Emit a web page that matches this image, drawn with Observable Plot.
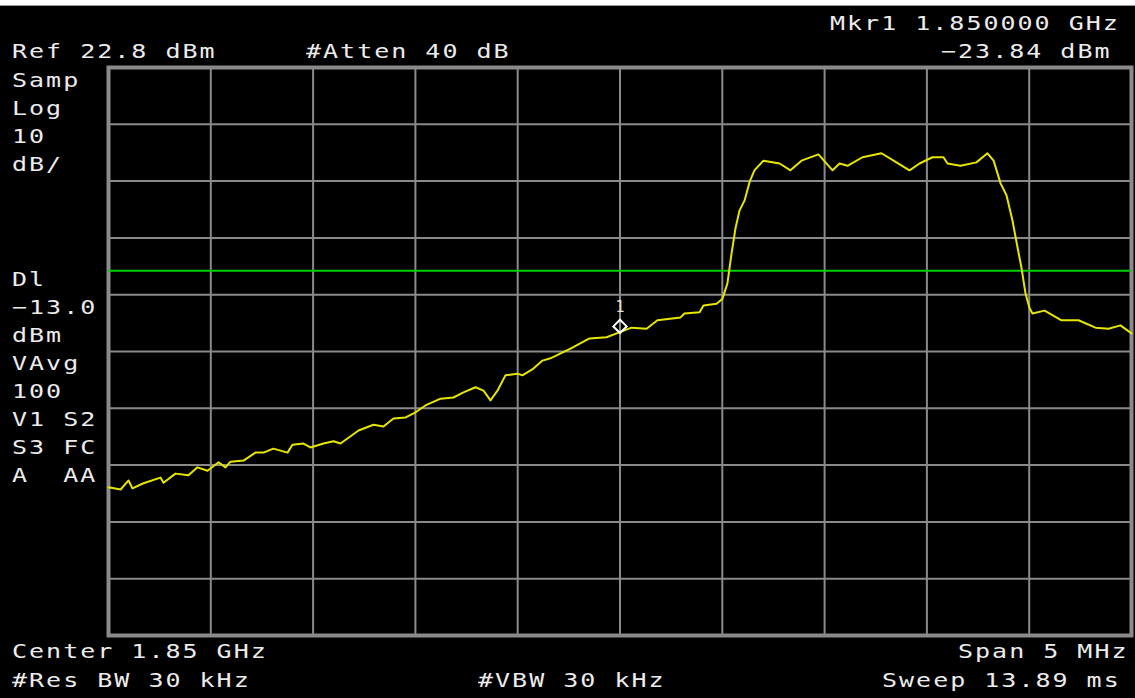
<!DOCTYPE html>
<html>
<head>
<meta charset="utf-8">
<script src="https://cdn.jsdelivr.net/npm/d3@7"></script>
<script src="https://cdn.jsdelivr.net/npm/@observablehq/plot@0.6"></script>
<style>
  html, body { margin: 0; padding: 0; background: #000; width: 1135px; height: 698px; overflow: hidden; }
  #wrap { position: relative; width: 1135px; height: 698px; }
  #chart { position: absolute; left: 0; top: 0; }
  .topstrip { position: absolute; left: 0; top: 0; width: 1135px; height: 5px; background: #fff; border-bottom: 1px solid #999; }
  .t { position: absolute; font-family: "DejaVu Sans Mono", monospace; font-size: 20px; line-height: 20px;
       letter-spacing: 1.6px; color: #ececec; white-space: pre;
       transform: scaleX(1.25); transform-origin: 0 0; }
</style>
</head>
<body>
<div id="wrap">
  <div id="chart"></div>
  <div class="topstrip"></div>
</div>
<script>
// ---- Instrument settings ----
const centerGHz = 1.85;
const spanMHz = 5;
const refLevel = 22.8;      // dBm, top of screen
const dbPerDiv = 10;
const displayLine = [-13.0];
const markerOffsetMHz = [0];
const markerLevel = [-23.84];
const markerLabel = ["1"];

// ---- Trace: frequency offset from center (MHz) and level (dBm) ----
const traceOffsetMHz = [
  -2.500,-2.441,-2.402,-2.383,-2.329,-2.246,-2.231,-2.173,-2.109,-2.065,
  -2.016,-1.962,-1.928,-1.904,-1.840,-1.782,-1.742,-1.694,-1.625,-1.601,
  -1.547,-1.513,-1.449,-1.400,-1.366,-1.278,-1.205,-1.156,-1.107,-1.048,
  -0.999,-0.951,-0.877,-0.814,-0.765,-0.706,-0.667,-0.633,-0.599,-0.560,
  -0.501,-0.477,-0.423,-0.379,-0.340,-0.242,-0.149,-0.066, 0.000, 0.056,
   0.130, 0.183, 0.296, 0.315, 0.389, 0.408, 0.472, 0.501, 0.525, 0.545,
   0.565, 0.584, 0.609, 0.633, 0.657, 0.701, 0.780, 0.833, 0.887, 0.970,
   1.039, 1.073, 1.112, 1.185, 1.278, 1.351, 1.415, 1.464, 1.527, 1.581,
   1.601, 1.664, 1.742, 1.796, 1.826, 1.860, 1.889, 1.918, 1.943, 1.962,
   1.982, 2.001, 2.016, 2.075, 2.158, 2.241, 2.324, 2.388, 2.446, 2.500
];
const traceLevel = [
  -51.1,-51.5,-49.9,-51.3,-50.4,-49.4,-50.3,-48.7,-49.0,-47.6,
  -48.2,-46.7,-47.6,-46.6,-46.4,-45.0,-45.0,-44.3,-45.0,-43.6,
  -43.4,-44.1,-43.4,-43.0,-43.4,-41.1,-40.1,-40.4,-39.0,-38.8,
  -37.9,-36.7,-35.5,-35.3,-34.4,-33.5,-34.1,-35.8,-34.1,-31.4,
  -31.1,-31.4,-30.2,-28.8,-28.4,-26.7,-24.9,-24.7,-23.8,-23.0,
  -23.2,-21.7,-21.2,-20.5,-20.3,-19.1,-18.8,-17.9,-15.2,-10.0,
   -5.4, -2.4, -0.6,  2.6,  4.7,  6.4,  5.9,  4.7,  6.4,  7.5,
    4.7,  5.9,  5.5,  7.0,  7.7,  6.1,  4.7,  5.9,  7.0,  7.0,
    5.9,  5.5,  6.1,  7.7,  6.4,  2.4,  0.3, -4.1, -8.9,-12.4,
  -17.0,-19.5,-20.5,-20.0,-21.7,-21.7,-23.0,-23.2,-22.6,-24.0
];

// ---- Annotation texts ----
const topTexts = [
  {text: "Mkr1 1.850000 GHz", left: 830, base: 30},
  {text: "Ref 22.8 dBm", left: 12, base: 58},
  {text: "#Atten 40 dB", left: 306, base: 58},
  {text: "\u221223.84 dBm", left: 941, base: 58}
];
const sideTexts = ["Samp", "Log", "10", "dB/"];
const sideTexts2 = ["Dl", "\u221213.0", "dBm", "VAvg", "100", "V1 S2", "S3 FC", "A  AA"];
const bottomTexts = [
  {text: "Center 1.85 GHz", left: 12, base: 658},
  {text: "Span 5 MHz", left: 958, base: 658},
  {text: "#Res BW 30 kHz", left: 12, base: 687},
  {text: "#VBW 30 kHz", left: 478, base: 687},
  {text: "Sweep 13.89 ms", left: 882, base: 687}
];

// ---- Build data ----
const toGHz = m => centerGHz + m / 1000;
const trace = traceOffsetMHz.map((m, i) => ({f: toGHz(m), db: traceLevel[i]}));
const markers = markerOffsetMHz.map((m, i) => ({f: toGHz(m), db: markerLevel[i], label: markerLabel[i]}));
const fMin = toGHz(-spanMHz / 2), fMax = toGHz(spanMHz / 2);
const bottomLevel = refLevel - 10 * dbPerDiv;
const xGrid = d3.range(11).map(i => fMin + i * (fMax - fMin) / 10);
const yGrid = d3.range(11).map(i => refLevel - i * dbPerDiv);

const grey = "#8a8a8a";
const chart = Plot.plot({
  width: 1135,
  height: 698,
  marginLeft: 108,
  marginRight: 4,
  marginTop: 67,
  marginBottom: 63,
  style: {background: "#000"},
  x: {domain: [fMin, fMax], axis: null},
  y: {domain: [bottomLevel, refLevel], axis: null},
  marks: [
    Plot.ruleX(xGrid.slice(1, -1), {stroke: grey, strokeWidth: 2}),
    Plot.ruleY(yGrid.slice(1, -1), {stroke: grey, strokeWidth: 2}),
    Plot.frame({stroke: grey, strokeWidth: 4}),
    Plot.ruleY(displayLine, {stroke: "#00d000", strokeWidth: 2}),
    Plot.line(trace, {x: "f", y: "db", stroke: "#e6e600", strokeWidth: 2}),
    Plot.dot(markers, {x: "f", y: "db", symbol: "diamond2", r: 6, stroke: "#fff", strokeWidth: 2, dy: -6}),
    Plot.text(markers, {x: "f", y: "db", text: "label", fill: "#e0e0e0", fontSize: 15,
      fontFamily: "DejaVu Sans Mono", dy: -25})
  ]
});
document.getElementById("chart").appendChild(chart);

// ---- Overlay texts ----
const wrap = document.getElementById("wrap");
function addText(text, left, base) {
  const d = document.createElement("div");
  d.className = "t";
  d.textContent = text;
  d.style.left = left + "px";
  d.style.top = (base - 17) + "px";
  wrap.appendChild(d);
}
topTexts.forEach(t => addText(t.text, t.left, t.base));
bottomTexts.forEach(t => addText(t.text, t.left, t.base));
sideTexts.forEach((t, i) => addText(t, 12, 87 + i * 28));
sideTexts2.forEach((t, i) => addText(t, 12, 286 + i * 28));
</script>
</body>
</html>
